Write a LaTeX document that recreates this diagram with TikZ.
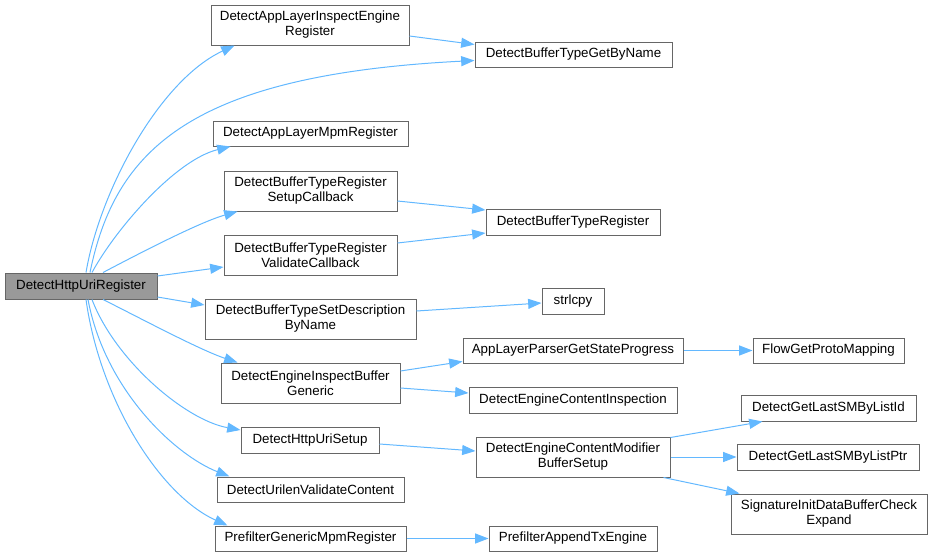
\documentclass[tikz,border=0pt]{standalone}
\usepackage{fontspec}
\setmainfont{Liberation Sans}
\usetikzlibrary{arrows.meta,calc}
\definecolor{edgeblue}{RGB}{99,184,255}
\definecolor{boxline}{RGB}{102,102,102}
\definecolor{rootfill}{RGB}{153,153,153}
\tikzset{
  fn/.style={draw=boxline, fill=white, line width=0.75pt, align=center, inner sep=0pt,
    font=\fontsize{10}{11.25}\selectfont},
  sz/.style 2 args={minimum width=#1*0.75pt, minimum height=#2*0.75pt},
  call/.style={draw=edgeblue, line width=0.75pt, -{Triangle[length=10pt,width=7.5pt]}}
}
\begin{document}
\begin{tikzpicture}[x=0.75pt,y=-0.75pt]
  \useasboundingbox (0,0) rectangle (932,557);

  \node [fn, fill=rootfill, sz={152}{26}] (root) at (81,286) {DetectHttpUriRegister};

  \node [fn, sz={198}{40}] (inspEng) at (310,25) {DetectAppLayerInspectEngine\\Register};
  \node [fn, sz={195}{25}] (mpmReg) at (310.5,133.5) {DetectAppLayerMpmRegister};
  \node [fn, sz={173}{40}] (setupCb) at (310.5,191) {DetectBufferTypeRegister\\SetupCallback};
  \node [fn, sz={173}{40}] (validCb) at (310.5,255) {DetectBufferTypeRegister\\ValidateCallback};
  \node [fn, sz={211}{40}] (setDesc) at (310.5,319) {DetectBufferTypeSetDescription\\ByName};
  \node [fn, sz={179}{40}] (inspBuf) at (310.5,383) {DetectEngineInspectBuffer\\Generic};
  \node [fn, sz={138}{26}] (uriSetup) at (310,440) {DetectHttpUriSetup};
  \node [fn, sz={187}{25}] (urilen) at (310.5,489.5) {DetectUrilenValidateContent};
  \node [fn, sz={191}{25}] (prefGen) at (310.5,538.5) {PrefilterGenericMpmRegister};

  \node [fn, sz={197}{25}] (getByName) at (573.5,54.5) {DetectBufferTypeGetByName};
  \node [fn, sz={174}{26}] (bufReg) at (573,222) {DetectBufferTypeRegister};
  \node [fn, sz={62}{26}] (strlcpy) at (573,301) {strlcpy};
  \node [fn, sz={220}{25}] (stateProg) at (573,350.5) {AppLayerParserGetStateProgress};
  \node [fn, sz={208}{26}] (contInsp) at (573,400) {DetectEngineContentInspection};
  \node [fn, sz={194}{40}] (modSetup) at (573,457) {DetectEngineContentModifier\\BufferSetup};
  \node [fn, sz={168}{25}] (prefTx) at (573,538.5) {PrefilterAppendTxEngine};

  \node [fn, sz={151}{25}] (flowMap) at (828.5,350.5) {FlowGetProtoMapping};
  \node [fn, sz={175}{26}] (lastId) at (828.5,408) {DetectGetLastSMByListId};
  \node [fn, sz={182}{26}] (lastPtr) at (828,457) {DetectGetLastSMByListPtr};
  \node [fn, sz={196}{40}] (sigInit) at (829,514) {SignatureInitDataBufferCheck\\Expand};

  \draw [call] ($(root.north)+(5,0)$) .. controls (100,190) and (160,80) .. ($(inspEng.south west)+(24,0)$);
  \draw [call] ($(root.north)+(9,0)$) .. controls (115,150) and (190,75) .. ($(getByName.west)+(0,6)$);
  \draw [call] ($(root.north)+(11,0)$) .. controls (115,230) and (175,160) .. ($(mpmReg.south west)+(18,0)$);
  \draw [call] ($(root.north)+(22,0)$) .. controls (140,253) and (200,222) .. ($(setupCb.south west)+(14,0)$);
  \draw [call] ($(root.east)+(0,-10)$) -- ($(validCb.west)+(0,12)$);
  \draw [call] ($(root.east)+(0,11)$) -- ($(setDesc.west)+(0,-14)$);
  \draw [call] ($(root.south)+(22,0)$) .. controls (140,318) and (200,350) .. ($(inspBuf.north west)+(17,0)$);
  \draw [call] ($(root.south)+(11,0)$) .. controls (115,360) and (185,420) .. ($(uriSetup.west)+(0,-10)$);
  \draw [call] ($(root.south)+(7,0)$) .. controls (105,390) and (175,455) .. ($(urilen.north west)+(13,0)$);
  \draw [call] ($(root.south)+(5,0)$) .. controls (100,400) and (160,495) .. ($(prefGen.north west)+(13,0)$);

  \draw [call] ($(inspEng.east)+(0,11)$) -- ($(getByName.west)+(0,-10)$);
  \draw [call] ($(setupCb.east)+(0,10)$) -- ($(bufReg.west)+(0,-12)$);
  \draw [call] ($(validCb.east)+(0,-12)$) -- ($(bufReg.west)+(0,11)$);
  \draw [call] ($(setDesc.east)+(0,-8)$) -- ($(strlcpy.west)+(0,2)$);
  \draw [call] ($(inspBuf.east)+(0,-12)$) -- ($(stateProg.south west)+(0,-2)$);
  \draw [call] ($(inspBuf.east)+(0,5)$) -- ($(contInsp.west)+(0,-7)$);
  \draw [call] ($(uriSetup.east)+(0,4)$) -- ($(modSetup.west)+(0,-6)$);
  \draw [call] (stateProg) -- (flowMap);
  \draw [call] ($(modSetup.north east)+(0,1)$) -- ($(lastId.south west)+(22,0)$);
  \draw [call] (modSetup) -- (lastPtr);
  \draw [call] ($(modSetup.south east)+(-7,0)$) -- ($(sigInit.north west)+(9,0)$);
  \draw [call] (prefGen) -- (prefTx);
\end{tikzpicture}
\end{document}
